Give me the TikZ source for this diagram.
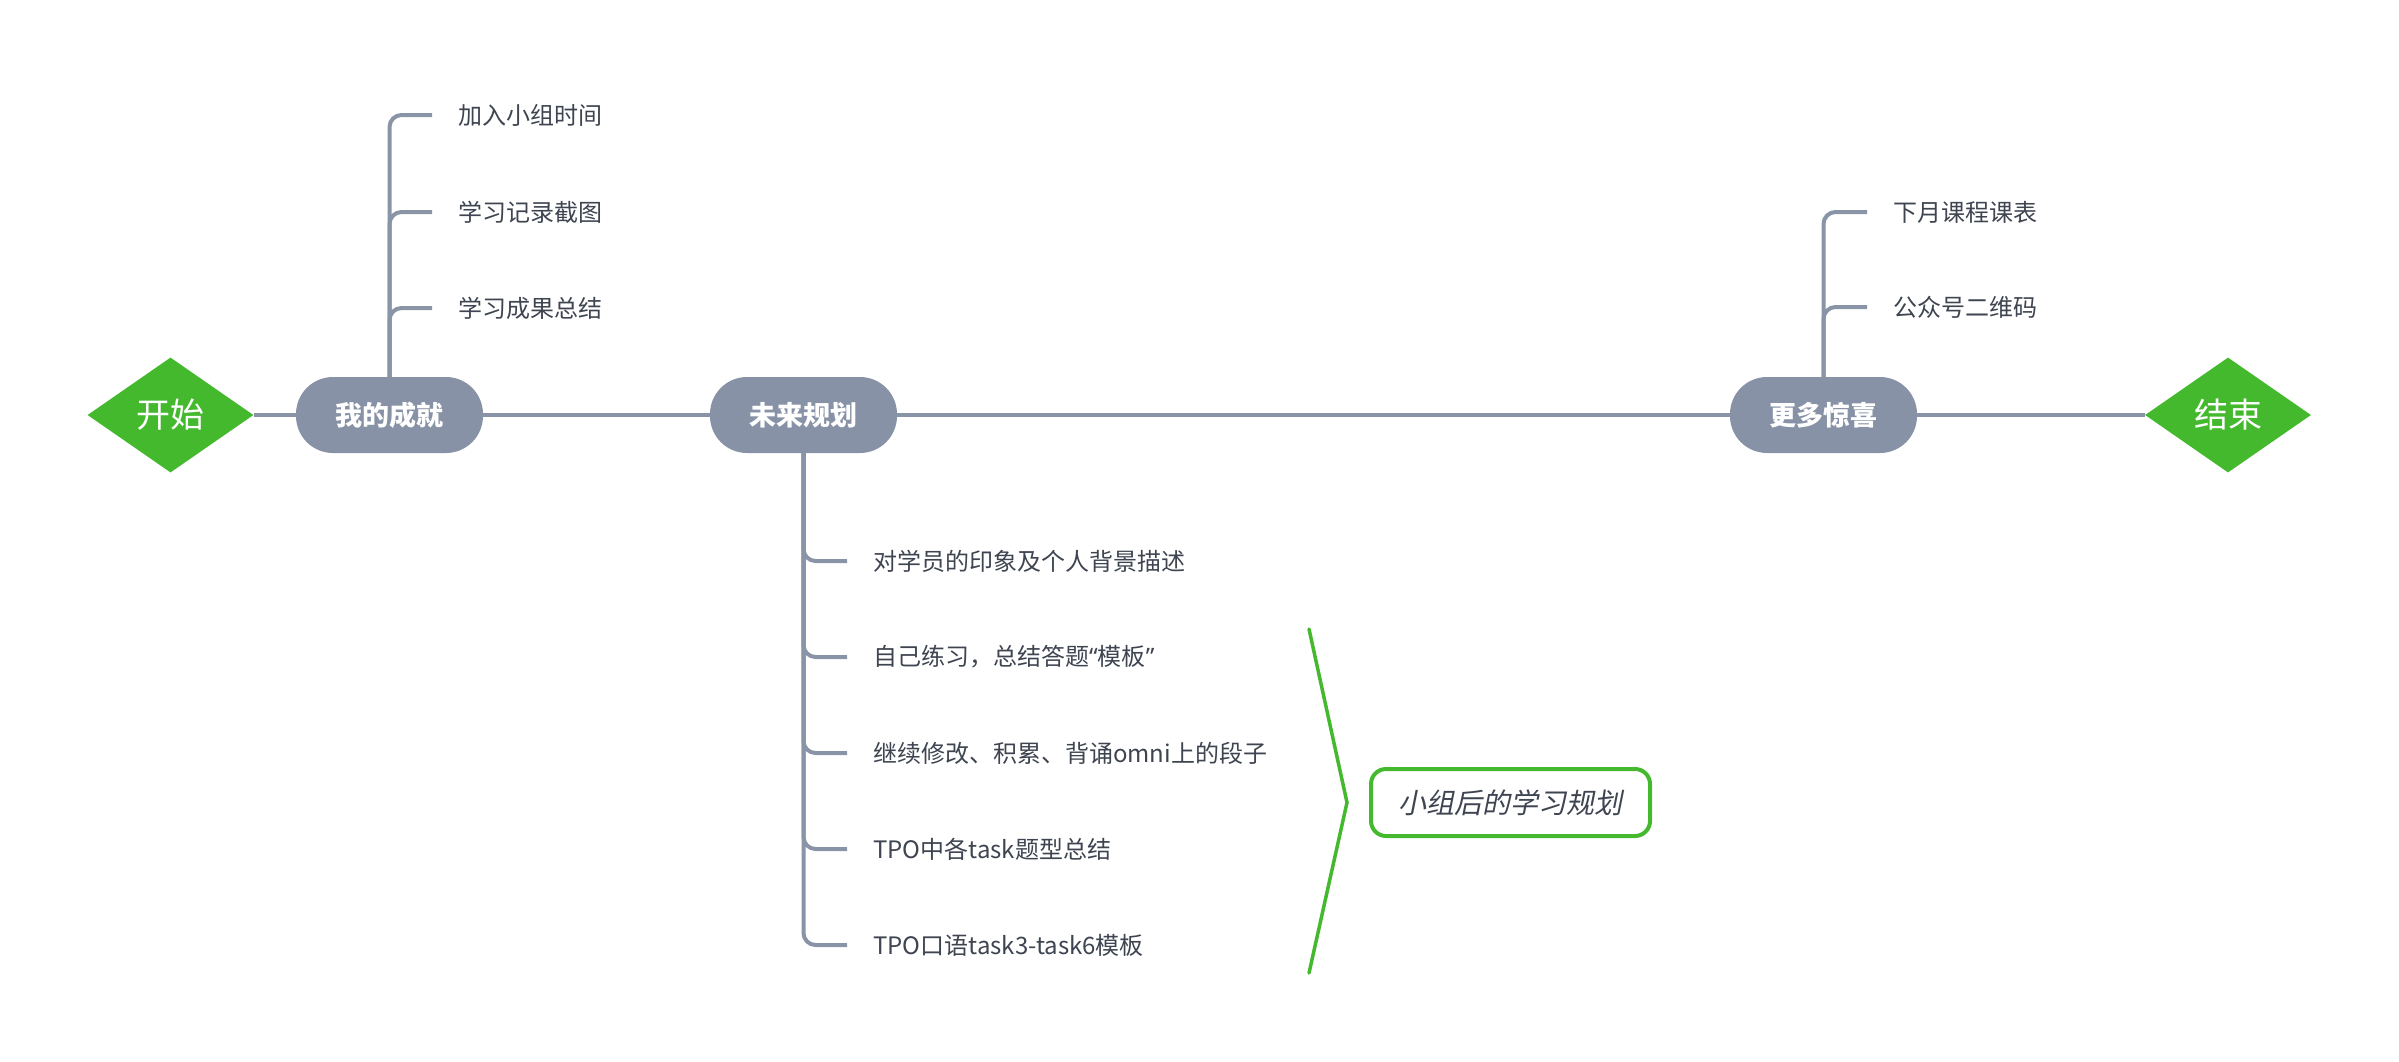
\documentclass[tikz,border=0pt]{standalone}
\usepackage{fontspec}
\setmainfont{Noto Sans CJK SC}
\newfontfamily\cjkit[FakeSlant=0.2]{Noto Sans CJK SC}
\newfontfamily\latinq{Noto Sans}
\usetikzlibrary{shapes.geometric}
\definecolor{linegray}{RGB}{137,148,166}
\definecolor{pillgray}{RGB}{135,146,166}
\definecolor{mmgreen}{RGB}{69,185,46}
\definecolor{txtgray}{RGB}{62,68,80}
\tikzset{
 conn/.style={draw=linegray, line width=4pt},
 branch/.style={conn, rounded corners=12pt},
 topic/.style={rectangle, fill=pillgray, rounded corners=37pt, minimum width=187pt, minimum height=76pt, inner sep=0pt, text=white, font=\fontsize{27}{30}\selectfont\bfseries},
 endpt/.style={diamond, fill=mmgreen, minimum width=166pt, minimum height=115pt, inner sep=0pt, text=white, font=\fontsize{34}{38}\selectfont},
 sub/.style={anchor=west, inner xsep=26pt, inner ysep=0pt, text=txtgray, font=\fontsize{24}{28}\selectfont},
 callout/.style={rectangle, draw=mmgreen, line width=4pt, rounded corners=15pt, minimum width=279pt, minimum height=67pt, inner sep=0pt, text=txtgray, font=\fontsize{28}{32}\selectfont\cjkit},
 bracket/.style={draw=mmgreen, line width=3.5pt, line cap=round, line join=miter},
}
\begin{document}
\begin{tikzpicture}[x=1pt,y=-1pt]
\useasboundingbox (0,0) rectangle (2399,1061);
% main nodes
\node[endpt] (start) at (170.5,415) {开始};
\node[topic] (m1) at (389.5,415) {我的成就};
\node[topic] (m2) at (803.5,415) {未来规划};
\node[topic] (m3) at (1823.5,415) {更多惊喜};
\node[endpt] (end) at (2228,415) {结束};
\draw[conn] (start.east) -- (m1.west);
\draw[conn] (m1.east) -- (m2.west);
\draw[conn] (m2.east) -- (m3.west);
\draw[conn] (m3.east) -- (end.west);
% branch 1
\node[sub] (a1) at (432,115) {加入小组时间};
\node[sub] (a2) at (432,212) {学习记录截图};
\node[sub] (a3) at (432,308) {学习成果总结};
\foreach \n in {a1,a2,a3} \draw[branch] (m1.north) |- (\n.west);
% branch 2
\node[sub] (b1) at (847,561) {对学员的印象及个人背景描述};
\node[sub] (b2) at (847,657) {自己练习，总结答题{\latinq “}模板{\latinq ”}};
\node[sub] (b3) at (847,753) {继续修改、积累、背诵omni上的段子};
\node[sub] (b4) at (847,849) {TPO中各task题型总结};
\node[sub] (b5) at (847,945) {TPO口语task3-task6模板};
\foreach \n in {b1,b2,b3,b4,b5} \draw[branch] (m2.south) |- (\n.west);
% branch 3
\node[sub] (c1) at (1867,212) {下月课程课表};
\node[sub] (c2) at (1867,307) {公众号二维码};
\foreach \n in {c1,c2} \draw[branch] (m3.north) |- (\n.west);
% summary
\node[callout] (note) at (1510.5,802.5) {小组后的学习规划};
\coordinate (bt) at (1309,629);
\coordinate (bb) at (1309,973);
\draw[bracket] (bt) -- ([xshift=-22pt]note.west) -- (bb);
\end{tikzpicture}
\end{document}
